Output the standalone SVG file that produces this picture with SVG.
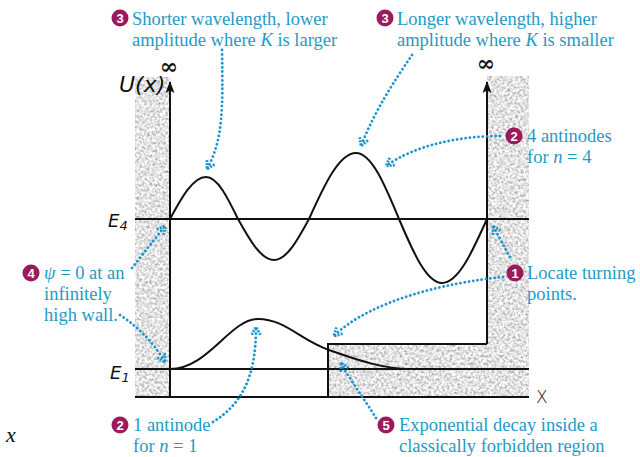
<svg xmlns="http://www.w3.org/2000/svg" width="640" height="457" viewBox="0 0 640 457">
<style>
.t{font-family:"Liberation Serif","Times New Roman",serif;font-size:18.5px;fill:#1f9ac6}
.i{font-style:italic}
.bn{font-family:"Liberation Sans",Arial,sans-serif;font-size:13px;font-weight:bold;fill:#fff;text-anchor:middle}
.bc{fill:#9c1a5b}
.hw{font-family:"DejaVu Sans","Liberation Sans",sans-serif;font-weight:200;fill:#111}
.ln{stroke:#111;stroke-width:2;fill:none}
.wave{stroke:#111;stroke-width:2;fill:none}
.dot{stroke:#1b95d0;stroke-width:2.8;fill:none;stroke-linecap:round;stroke-dasharray:0.1 4.2;marker-end:url(#ah)}
.inf{font-family:"DejaVu Serif","Liberation Serif",serif;font-size:22px;font-weight:bold;fill:#111;text-anchor:middle}
</style>
<defs>
<filter id="stone" x="0" y="0" width="100%" height="100%">
<feTurbulence type="fractalNoise" baseFrequency="0.38" numOctaves="4" seed="7" result="n"/>
<feColorMatrix in="n" type="matrix" values="1.2 0 0 0 0.17  1.2 0 0 0 0.17  1.2 0 0 0 0.17  0 0 0 0 1" result="g"/>
<feComposite in="g" in2="SourceGraphic" operator="in"/>
</filter>
<marker id="ah" viewBox="0 0 10 10" refX="8" refY="5" markerWidth="11" markerHeight="11" markerUnits="userSpaceOnUse" orient="auto">
<path d="M1,1 L8,5 L1,9" fill="none" stroke="#1b95d0" stroke-width="2.6" stroke-dasharray="1.8 1.1"/>
</marker>
<marker id="ax" viewBox="0 0 10 12" refX="5" refY="1" markerWidth="10" markerHeight="12" markerUnits="userSpaceOnUse" orient="0">
<path d="M5,0 L9.5,12 L5,9.5 L0.5,12 Z" fill="#111"/>
</marker>
</defs>

<g id="walls">
<rect x="135" y="77" width="35" height="320" fill="#ccc" filter="url(#stone)"/>
<path d="M487,76 H529 V397 H328 V344 H487 Z" fill="#ccc" filter="url(#stone)"/>
</g>

<g id="potential">
<path class="ln" d="M170,397 V82" marker-end="url(#ax)"/>
<path class="ln" d="M487,344 V82" marker-end="url(#ax)"/>
<path class="ln" d="M135,397 H529"/>
<path class="ln" d="M328,397 V344 H487"/>
<path class="ln" d="M135,219 H529"/>
<path class="ln" d="M135,369 H529"/>
<text class="inf" x="169" y="74">∞</text>
<text class="inf" x="486" y="71">∞</text>
<text class="hw" x="119" y="92" font-size="22" font-style="italic">U(x)</text>
<text class="hw" x="108" y="227" font-size="18" font-style="italic">E<tspan font-size="13" dy="3">4</tspan></text>
<text class="hw" x="110" y="379" font-size="18" font-style="italic">E<tspan font-size="13" dy="3">1</tspan></text>
<text class="hw" x="536" y="403" font-size="17">X</text>
</g>

<g id="wave-n4">
<path class="wave" d="M170,219 C181.7,197.5 193,177 206,177 C217.6,177 227.6,197.5 238,219 C249.7,240 261,260 274,260 C286.7,260 297.6,240 309,219 C324.3,185.2 339,153 356,153 C371.6,153 385,185.2 399,219 C413,251.8 426.4,283 442,283 C458.3,283 472.3,251.8 487,219"/>
</g>
<g id="wave-n1">
<path class="wave" d="M170,369 C208,369 230,319 258,319 C285,319 300,340 329,350 C360,361 385,369 410,369"/>
</g>

<g id="connectors">
<path class="dot" d="M222,50 C223,110 223,140 207,169"/>
<path class="dot" d="M412,55 C395,80 375,110 361,146"/>
<path class="dot" d="M500,136 C460,136 415,145 386,166"/>
<path class="dot" d="M132,268 L165,226"/>
<path class="dot" d="M120,315 C140,328 155,345 165,362"/>
<path class="dot" d="M510,257 L493,226"/>
<path class="dot" d="M503,277 C450,282 370,300 334,336"/>
<path class="dot" d="M213,422 C240,405 256,380 256,327"/>
<path class="dot" d="M376,418 C365,400 350,380 341,363"/>
</g>

<g id="note-shorter">
<circle class="bc" cx="120" cy="18" r="8.5"/><text class="bn" x="120" y="22.5">3</text>
<text class="t" x="132" y="25">Shorter wavelength, lower</text>
<text class="t" x="132" y="46">amplitude where <tspan class="i">K</tspan> is larger</text>
</g>
<g id="note-longer">
<circle class="bc" cx="385" cy="18" r="8.5"/><text class="bn" x="385" y="22.5">3</text>
<text class="t" x="397" y="25">Longer wavelength, higher</text>
<text class="t" x="397" y="46">amplitude where <tspan class="i">K</tspan> is smaller</text>
</g>
<g id="note-n4">
<circle class="bc" cx="514" cy="136" r="8.5"/><text class="bn" x="514" y="140.5">2</text>
<text class="t" x="527" y="142">4 antinodes</text>
<text class="t" x="527" y="163">for <tspan class="i">n</tspan> = 4</text>
</g>
<g id="note-turning">
<circle class="bc" cx="515" cy="273" r="8.5"/><text class="bn" x="515" y="277.5">1</text>
<text class="t" x="527" y="279">Locate turning</text>
<text class="t" x="527" y="300">points.</text>
</g>
<g id="note-wall">
<circle class="bc" cx="31" cy="273" r="8.5"/><text class="bn" x="31" y="277.5">4</text>
<text class="t" x="44" y="279"><tspan class="i">ψ</tspan> = 0 at an</text>
<text class="t" x="44" y="300">infinitely</text>
<text class="t" x="44" y="321">high wall.</text>
</g>
<g id="note-n1">
<circle class="bc" cx="120" cy="425" r="8.5"/><text class="bn" x="120" y="429.5">2</text>
<text class="t" x="133" y="431">1 antinode</text>
<text class="t" x="133" y="452">for <tspan class="i">n</tspan> = 1</text>
</g>
<g id="note-decay">
<circle class="bc" cx="386" cy="425" r="8.5"/><text class="bn" x="386" y="429.5">5</text>
<text class="t" x="399" y="431">Exponential decay inside a</text>
<text class="t" x="399" y="452">classically forbidden region</text>
</g>
<text x="6" y="442" font-family="Liberation Serif,serif" font-style="italic" font-size="22" fill="#111">x</text>
</svg>
